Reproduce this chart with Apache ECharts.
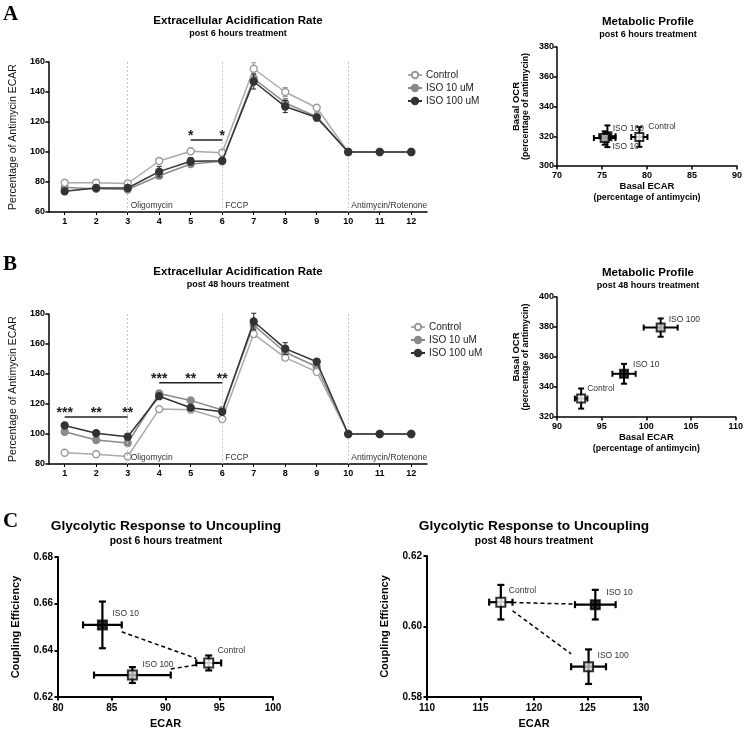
<!DOCTYPE html>
<html><head><meta charset="utf-8">
<script src="https://cdn.jsdelivr.net/npm/echarts@6/dist/echarts.min.js"></script>
<style>html,body{margin:0;padding:0;background:#fff}#c{width:746px;height:730px}</style>
</head><body><div id="c"></div>
<script>
// ---------------- DATA ----------------
const timepoints = ['1','2','3','4','5','6','7','8','9','10','11','12'];
const lineNames = ['Control','ISO 10 uM','ISO 100 uM'];
const injections = ['Oligomycin','FCCP','Antimycin/Rotenone'];
const injectionAt = ['3','6','10'];

// Panel A: ECAR, post 6 hours treatment (% of antimycin)
const ecar6Control    = [79.5, 79.5, 79.0, 94.0, 100.5, 99.5, 155.5, 140.0, 129.5, 100, 100, 100];
const ecar6ControlErr = [1.5, 1.0, 1.0, 1.0, 2.0, 1.2, 4.0, 3.0, 1.5, 0, 0, 0];
const ecar6Iso10      = [76.4, 75.5, 75.0, 84.2, 92.0, 93.8, 149.0, 132.7, 123.6, 100, 100, 100];
const ecar6Iso10Err   = [1.5, 1.0, 1.0, 1.5, 1.5, 1.5, 3.0, 3.0, 3.0, 0, 0, 0];
const ecar6Iso100     = [73.8, 76.0, 76.0, 86.9, 93.8, 94.2, 147.0, 130.3, 123.0, 100, 100, 100];
const ecar6Iso100Err  = [2.0, 1.5, 1.5, 3.5, 2.5, 1.5, 5.0, 4.0, 2.0, 0, 0, 0];
const sig6Bars  = [['5', '6', 108]];
const sig6Stars = [['5', '*', 108], ['6', '*', 108]];

// Panel B: ECAR, post 48 hours treatment (% of antimycin)
const ecar48Control    = [87.5, 86.5, 85.0, 116.6, 116.2, 110.0, 166.6, 150.9, 141.4, 100, 100, 100];
const ecar48ControlErr = [1.0, 1.0, 1.0, 1.0, 1.0, 1.0, 2.0, 2.0, 2.0, 0, 0, 0];
const ecar48Iso10      = [101.5, 96.0, 94.0, 127.0, 122.4, 116.0, 172.6, 154.5, 144.8, 100, 100, 100];
const ecar48Iso10Err   = [2.0, 1.5, 1.5, 1.5, 1.5, 1.5, 3.0, 3.0, 3.0, 0, 0, 0];
const ecar48Iso100     = [105.7, 100.5, 98.2, 125.2, 117.5, 114.8, 175.0, 156.9, 148.2, 100, 100, 100];
const ecar48Iso100Err  = [2.0, 1.5, 1.5, 1.5, 1.5, 1.5, 5.5, 4.0, 2.0, 0, 0, 0];
const sig48Bars  = [['1', '3', 111.3], ['4', '6', 134.2]];
const sig48Stars = [['1', '***', 111.3], ['2', '**', 111.3], ['3', '**', 111.3],
                    ['4', '***', 134.2], ['5', '**', 134.2], ['6', '**', 134.2]];

// Groups for scatter panels
const groups = ['Control', 'ISO 10', 'ISO 100'];

// Metabolic profile post 6 h
const meta6Ecar    = [79.15, 75.6, 75.3];
const meta6EcarErr = [0.9, 0.9, 1.2];
const meta6Ocr     = [319.5, 320.0, 318.8];
const meta6OcrErr  = [6.6, 7.3, 4.5];

// Metabolic profile post 48 h
const meta48Ecar    = [92.7, 97.5, 101.6];
const meta48EcarErr = [0.7, 1.3, 1.9];
const meta48Ocr     = [332.3, 348.8, 379.6];
const meta48OcrErr  = [6.7, 6.6, 6.1];

// Glycolytic response to uncoupling post 6 h
const couple6Ecar   = [94.02, 84.13, 86.92];
const couple6EcarErr= [1.16, 1.8, 3.57];
const couple6Eff    = [0.6346, 0.6509, 0.6294];
const couple6EffErr = [0.0032, 0.0100, 0.0034];
const couple6Links  = [[1, 0], [2, 0]];

// Glycolytic response to uncoupling post 48 h
const couple48Ecar   = [116.9, 125.73, 125.1];
const couple48EcarErr= [1.09, 1.9, 1.63];
const couple48Eff    = [0.6069, 0.6062, 0.5886];
const couple48EffErr = [0.0049, 0.0042, 0.0049];
const couple48Links  = [[0, 1], [0, 2]];

// ---------------- STYLE ----------------
const FONT = 'Liberation Sans, Arial, sans-serif';
const lineStyles = [
  {line:'#aaaaaa', fill:'#ffffff', border:'#999999', z:4},
  {line:'#8a8a8a', fill:'#8a8a8a', border:'#8a8a8a', z:3},
  {line:'#333333', fill:'#333333', border:'#333333', z:5}
];
const groupFill = ['#ffffff', '#000000', '#cccccc'];
const labelOffsets = {
  meta6:   [[9,-10],[5,10],[8,-9.5]],
  meta48:  [[6,-10],[9,-9],[8,-8]],
  couple6: [[9,-12],[10,-11],[10,-10]],
  couple48:[[8,-12],[11,-12],[9,-11]]
};

const chart = echarts.init(document.getElementById('c'), null, {renderer:'canvas', width:746, height:730});

const grids = [
  {left:47,  top:62,  width:380, height:150},
  {left:557, top:47,  width:180, height:119},
  {left:47,  top:314, width:380, height:150},
  {left:557, top:297, width:180, height:120},
  {left:58,  top:557, width:215, height:142},
  {left:427, top:556, width:214, height:143}
];

function tickLabel(size){ return {color:'#000', fontWeight:'bold', fontSize:size, fontFamily:FONT}; }
function axisLineStyle(w){ return {show:true, lineStyle:{color:'#000', width:w}}; }

function catX(gi){
  return {gridIndex:gi, type:'category', data:timepoints, boundaryGap:true,
    axisLine:axisLineStyle(1.5), axisTick:{show:true, alignWithLabel:true, length:3, lineStyle:{color:'#000', width:1}},
    axisLabel:Object.assign({margin:5, interval:0}, tickLabel(9)), splitLine:{show:false}};
}
function valAxis(gi, min, max, interval, opts){
  const o = {gridIndex:gi, type:'value', min, max, interval, scale:false,
    axisLine:axisLineStyle(opts.lw||1.5), axisTick:{show:true, length:3.5, lineStyle:{color:'#000', width:opts.lw||1.5}},
    axisLabel:Object.assign({margin:opts.margin||4, formatter: opts.fmt}, tickLabel(opts.fs||9)),
    splitLine:{show:false}};
  if (opts.name){
    o.name = opts.name; o.nameLocation = 'middle'; o.nameGap = opts.nameGap;
    o.nameTextStyle = opts.nameStyle;
  }
  return o;
}

const metaName = '{a|Basal ECAR}\n{b|(percentage of antimycin)}';
const metaYName = '{a|Basal OCR}\n{b|(percentage of antimycin)}';
const metaRich = {fontFamily:FONT, color:'#000', rich:{
  a:{fontSize:9.5, fontWeight:'bold', fontFamily:FONT, lineHeight:12, color:'#000'},
  b:{fontSize:8.8, fontWeight:'bold', fontFamily:FONT, lineHeight:11, color:'#000'}}};
const metaRichY = {fontFamily:FONT, color:'#000', rich:{
  a:{fontSize:9.5, fontWeight:'bold', fontFamily:FONT, lineHeight:10, color:'#000'},
  b:{fontSize:8.8, fontWeight:'bold', fontFamily:FONT, lineHeight:10, color:'#000'}}};
const lineYNameStyle = {fontSize:10.5, color:'#111', fontFamily:FONT};
const coupleNameStyle = {fontSize:11, fontWeight:'bold', color:'#000', fontFamily:FONT};

const xAxes = [
  catX(0),
  valAxis(1, 70, 90, 5, {name:metaName, nameGap:6, nameStyle:metaRich, margin:5}),
  catX(2),
  valAxis(3, 90, 110, 5, {name:metaName, nameGap:6, nameStyle:metaRich, margin:5}),
  valAxis(4, 80, 100, 5, {name:'ECAR', nameGap:21, nameStyle:coupleNameStyle, fs:10, lw:2, margin:6}),
  valAxis(5, 110, 130, 5, {name:'ECAR', nameGap:21, nameStyle:coupleNameStyle, fs:10, lw:2, margin:6})
];
const yAxes = [
  valAxis(0, 60, 160, 20, {name:'Percentage of Antimycin ECAR', nameGap:28, nameStyle:lineYNameStyle}),
  valAxis(1, 300, 380, 20, {name:metaYName, nameGap:26, nameStyle:metaRichY, margin:3}),
  valAxis(2, 80, 180, 20, {name:'Percentage of Antimycin ECAR', nameGap:28, nameStyle:lineYNameStyle}),
  valAxis(3, 320, 400, 20, {name:metaYName, nameGap:26, nameStyle:metaRichY, margin:3}),
  valAxis(4, 0.62, 0.68, 0.02, {name:'Coupling Efficiency', nameGap:37, nameStyle:coupleNameStyle, fs:10, lw:2, margin:5, fmt:v=>v.toFixed(2)}),
  valAxis(5, 0.58, 0.62, 0.02, {name:'Coupling Efficiency', nameGap:37, nameStyle:coupleNameStyle, fs:10, lw:2, margin:5, fmt:v=>v.toFixed(2)})
];

// ---------- series builders ----------
function lineSeries(gi, idx, values, withMark){
  const st = lineStyles[idx];
  const s = {type:'line', name:lineNames[idx], xAxisIndex:gi, yAxisIndex:gi, data:values,
    symbol:'circle', symbolSize:7, showSymbol:true, z:st.z,
    lineStyle:{color:st.line, width:1.5},
    itemStyle:{color:st.fill, borderColor:st.border, borderWidth:1.3}, emphasis:{disabled:true}};
  if (withMark){
    s.markLine = {silent:true, symbol:'none', label:{show:false}, animation:false,
      lineStyle:{color:'#c8c8c8', type:[2,2], width:1},
      data: injectionAt.map(c => ({xAxis:c}))};
  }
  return s;
}
function vErrSeries(gi, idx, values, errs){
  const color = lineStyles[idx].border;
  return {type:'custom', xAxisIndex:gi, yAxisIndex:gi, z:lineStyles[idx].z-0.5, silent:true,
    data: values.map((v,i)=>[i, v, errs[i]]),
    renderItem:(p, api)=>{
      const x=api.value(0), y=api.value(1), e=api.value(2);
      if (!e) return null;
      const t=api.coord([x,y+e]), b=api.coord([x,y-e]); const w=2.5;
      const st={stroke:color, lineWidth:1.1};
      return {type:'group', children:[
        {type:'line', shape:{x1:t[0],y1:t[1],x2:b[0],y2:b[1]}, style:st},
        {type:'line', shape:{x1:t[0]-w,y1:t[1],x2:t[0]+w,y2:t[1]}, style:st},
        {type:'line', shape:{x1:b[0]-w,y1:b[1],x2:b[0]+w,y2:b[1]}, style:st}]};
    }};
}
function injectionLabels(gi, yMin){
  return {type:'custom', xAxisIndex:gi, yAxisIndex:gi, silent:true, z:6,
    data: injectionAt.map(c=>[c, yMin]),
    renderItem:(p, api)=>{
      const pt = api.coord([api.value(0), api.value(1)]);
      return {type:'text', x:pt[0]+3, y:pt[1]-6, style:{text:injections[p.dataIndex], fill:'#333',
        font:'8.5px '+FONT, textAlign:'left', textVerticalAlign:'middle'}};
    }};
}
function sigSeries(gi, bars, stars){
  return [
    {type:'custom', xAxisIndex:gi, yAxisIndex:gi, silent:true, z:6,
      data: bars.map(b=>[b[0], b[2], b[1]]),
      renderItem:(p, api)=>{
        const b = bars[p.dataIndex];
        const a = api.coord([timepoints.indexOf(b[0]), b[2]]);
        const c = api.coord([timepoints.indexOf(b[1]), b[2]]);
        return {type:'line', shape:{x1:a[0],y1:a[1],x2:c[0],y2:c[1]}, style:{stroke:'#222', lineWidth:1.5}};
      }},
    {type:'custom', xAxisIndex:gi, yAxisIndex:gi, silent:true, z:6,
      data: stars.map(s=>[s[0], s[2]]),
      renderItem:(p, api)=>{
        const s = stars[p.dataIndex];
        const pt = api.coord([timepoints.indexOf(s[0]), s[2]]);
        return {type:'text', x:pt[0], y:pt[1]-3.5, style:{text:s[1], fill:'#222',
          font:'bold 14px '+FONT, textAlign:'center', textVerticalAlign:'middle'}};
      }}
  ];
}
function xyErrSeries(gi, xs, xe, ys, ye, lw, cap){
  return {type:'custom', xAxisIndex:gi, yAxisIndex:gi, silent:true, z:3,
    data: xs.map((x,i)=>[x, ys[i], xe[i], ye[i]]),
    renderItem:(p, api)=>{
      const x=api.value(0), y=api.value(1), ex=api.value(2), ey=api.value(3);
      const c=api.coord([x,y]), l=api.coord([x-ex,y]), r=api.coord([x+ex,y]);
      const t=api.coord([x,y+ey]), b=api.coord([x,y-ey]);
      const st={stroke:'#000', lineWidth:lw};
      return {type:'group', children:[
        {type:'line', shape:{x1:l[0],y1:c[1],x2:r[0],y2:c[1]}, style:st},
        {type:'line', shape:{x1:l[0],y1:c[1]-cap,x2:l[0],y2:c[1]+cap}, style:st},
        {type:'line', shape:{x1:r[0],y1:c[1]-cap,x2:r[0],y2:c[1]+cap}, style:st},
        {type:'line', shape:{x1:c[0],y1:t[1],x2:c[0],y2:b[1]}, style:st},
        {type:'line', shape:{x1:c[0]-cap,y1:t[1],x2:c[0]+cap,y2:t[1]}, style:st},
        {type:'line', shape:{x1:c[0]-cap,y1:b[1],x2:c[0]+cap,y2:b[1]}, style:st}]};
    }};
}
function squareSeries(gi, xs, ys, size, bw){
  return {type:'scatter', xAxisIndex:gi, yAxisIndex:gi, z:5, symbol:'rect', symbolSize:size, silent:true,
    data: xs.map((x,i)=>({value:[x, ys[i]], itemStyle:{color:groupFill[i], borderColor:'#000', borderWidth:bw}}))};
}
function pointLabels(gi, xs, ys, offsets){
  return {type:'custom', xAxisIndex:gi, yAxisIndex:gi, silent:true, z:6,
    data: xs.map((x,i)=>[x, ys[i]]),
    renderItem:(p, api)=>{
      const pt = api.coord([api.value(0), api.value(1)]);
      const o = offsets[p.dataIndex];
      return {type:'text', x:pt[0]+o[0], y:pt[1]+o[1], style:{text:groups[p.dataIndex], fill:'#333',
        font:'8.5px '+FONT, textAlign:'left', textVerticalAlign:'middle'}};
    }};
}
function linkSeries(gi, xs, xe, ys, links){
  const data = [];
  links.forEach(([a,b])=>{
    const sgn = xs[b] > xs[a] ? 1 : -1;
    const x1 = xs[a] + sgn*xe[a], x2 = xs[b] - sgn*xe[b];
    const f = x => ys[a] + (ys[b]-ys[a])*(x-xs[a])/(xs[b]-xs[a]);
    data.push([x1, f(x1)], [x2, f(x2)], [null, null]);
  });
  return {type:'line', xAxisIndex:gi, yAxisIndex:gi, z:2, silent:true, symbol:'none', connectNulls:false,
    data, lineStyle:{color:'#000', width:1.5, type:[4,3]}};
}

const series = [
  // Panel A line
  vErrSeries(0, 2, ecar6Iso100, ecar6Iso100Err),
  vErrSeries(0, 1, ecar6Iso10, ecar6Iso10Err),
  vErrSeries(0, 0, ecar6Control, ecar6ControlErr),
  lineSeries(0, 1, ecar6Iso10, true),
  lineSeries(0, 2, ecar6Iso100, false),
  lineSeries(0, 0, ecar6Control, false),
  injectionLabels(0, 60),
  ...sigSeries(0, sig6Bars, sig6Stars),
  // Panel B line
  vErrSeries(2, 0, ecar48Control, ecar48ControlErr),
  vErrSeries(2, 1, ecar48Iso10, ecar48Iso10Err),
  vErrSeries(2, 2, ecar48Iso100, ecar48Iso100Err),
  lineSeries(2, 0, ecar48Control, true),
  lineSeries(2, 1, ecar48Iso10, false),
  lineSeries(2, 2, ecar48Iso100, false),
  injectionLabels(2, 80),
  ...sigSeries(2, sig48Bars, sig48Stars),
  // Metabolic profiles
  xyErrSeries(1, meta6Ecar, meta6EcarErr, meta6Ocr, meta6OcrErr, 2, 3),
  squareSeries(1, meta6Ecar, meta6Ocr, 8, 2),
  pointLabels(1, meta6Ecar, meta6Ocr, labelOffsets.meta6),
  xyErrSeries(3, meta48Ecar, meta48EcarErr, meta48Ocr, meta48OcrErr, 2, 3),
  squareSeries(3, meta48Ecar, meta48Ocr, 8, 2),
  pointLabels(3, meta48Ecar, meta48Ocr, labelOffsets.meta48),
  // Coupling
  linkSeries(4, couple6Ecar, couple6EcarErr, couple6Eff, couple6Links),
  xyErrSeries(4, couple6Ecar, couple6EcarErr, couple6Eff, couple6EffErr, 2.2, 3.5),
  squareSeries(4, couple6Ecar, couple6Eff, 9, 2),
  pointLabels(4, couple6Ecar, couple6Eff, labelOffsets.couple6),
  linkSeries(5, couple48Ecar, couple48EcarErr, couple48Eff, couple48Links),
  xyErrSeries(5, couple48Ecar, couple48EcarErr, couple48Eff, couple48EffErr, 2.2, 3.5),
  squareSeries(5, couple48Ecar, couple48Eff, 9, 2),
  pointLabels(5, couple48Ecar, couple48Eff, labelOffsets.couple48)
];

function mkTitle(text, sub, cx, top, fs, sfs){
  return {text, subtext:sub, left:cx, top, textAlign:'center', padding:0, itemGap:1,
    textStyle:{fontSize:fs, fontWeight:'bold', color:'#000', fontFamily:FONT, lineHeight:fs+1.5},
    subtextStyle:{fontSize:sfs, fontWeight:'bold', color:'#000', fontFamily:FONT, lineHeight:sfs+1.5}};
}
function letter(t, top){
  return {text:t, left:3, top, padding:0, textStyle:{fontSize:21, fontWeight:'bold', color:'#000', fontFamily:'Liberation Serif, Times New Roman, serif'}};
}

const legendBase = {orient:'vertical', itemWidth:14, itemHeight:8, itemGap:3,
  textStyle:{fontSize:10, color:'#222', fontFamily:FONT, padding:[0,0,0,-1]}, data:lineNames, selectedMode:false, padding:0};

const option = {
  animation:false,
  backgroundColor:'#fff',
  title:[
    mkTitle('Extracellular Acidification Rate', 'post 6 hours treatment', 238, 14.5, 11.5, 9),
    mkTitle('Metabolic Profile', 'post 6 hours treatment', 648, 15.5, 11.5, 9),
    mkTitle('Extracellular Acidification Rate', 'post 48 hours treatment', 238, 265.5, 11.5, 9),
    mkTitle('Metabolic Profile', 'post 48 hours treatment', 648, 266, 11.5, 9),
    mkTitle('Glycolytic Response to Uncoupling', 'post 6 hours treatment', 166, 519, 13.7, 10.4),
    mkTitle('Glycolytic Response to Uncoupling', 'post 48 hours treatment', 534, 519, 13.7, 10.4),
    letter('A', 4), letter('B', 254), letter('C', 511)
  ],
  legend:[
    Object.assign({left:407, top:70}, legendBase),
    Object.assign({left:410, top:322}, legendBase)
  ],
  grid: grids,
  xAxis: xAxes,
  yAxis: yAxes,
  series
};
chart.setOption(option);
</script>
</body></html>
